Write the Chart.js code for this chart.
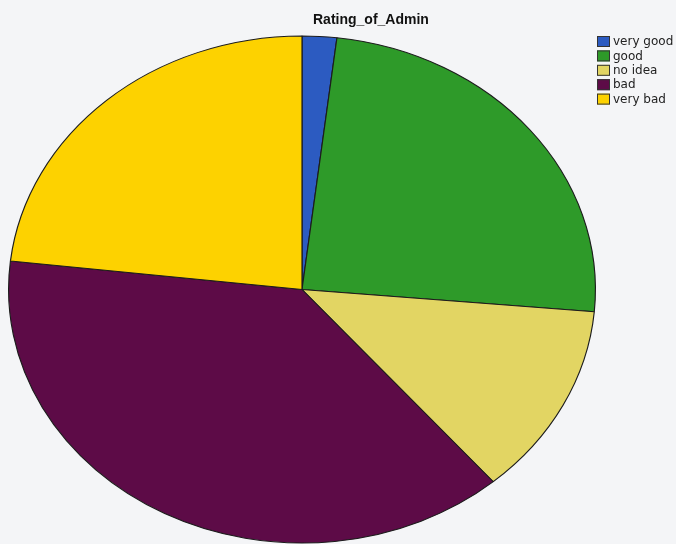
<!DOCTYPE html>
<html>
<head>
<meta charset="utf-8">
<title>Rating_of_Admin</title>
<script src="https://cdn.jsdelivr.net/npm/chart.js@4.4.1/dist/chart.umd.min.js"></script>
<style>
    html, body { margin: 0; padding: 0; background: #f4f5f7; }
    #wrap { position: relative; width: 676px; height: 544px; overflow: hidden; }
</style>
</head>
<body>
<div id="wrap"><canvas id="adminChart" width="676" height="544"></canvas></div>
<script>
const categories = ["very good", "good", "no idea", "bad", "very bad"];
const percents = [1.9, 24.5, 12.3, 38.1, 23.2];
const sliceColors = ["#2c5bc1", "#2e9a29", "#e2d563", "#5d0b47", "#fdd200"];
const chartTitle = "Rating_of_Admin";

// pie is drawn round by the library, then stretched sideways into an oval
const stretchX = 294 / 254;

const ovalPlugin = {
    id: "oval",
    beforeDatasetsDraw(chart) {
        const arc = chart.getDatasetMeta(0).data[0];
        const ctx = chart.ctx;
        ctx.save();
        ctx.translate(arc.x, arc.y);
        ctx.scale(stretchX, 1);
        ctx.translate(-arc.x, -arc.y);
    },
    afterDatasetsDraw(chart) {
        chart.ctx.restore();
    }
};

// title and the small box legend at the top right
const labelsPlugin = {
    id: "labels",
    afterDraw(chart) {
        const ctx = chart.ctx;
        ctx.save();
        ctx.fillStyle = "#111";
        ctx.font = "bold 14px 'Liberation Sans', Arial, sans-serif";
        ctx.textBaseline = "alphabetic";
        ctx.fillText(chartTitle, 313, 24);

        const ds = chart.data.datasets[0];
        ctx.font = "12px 'DejaVu Sans', sans-serif";
        ctx.textBaseline = "middle";
        chart.data.labels.forEach((label, i) => {
            const y = 41.5 + i * 14.4;
            ctx.fillStyle = ds.backgroundColor[i];
            ctx.fillRect(597, y - 5.5, 13, 11);
            ctx.strokeStyle = "#333";
            ctx.lineWidth = 1;
            ctx.strokeRect(597.5, y - 5, 12, 10);
            ctx.fillStyle = "#222";
            ctx.fillText(label, 613, y + 0.5);
        });
        ctx.restore();
    }
};

const ctx = document.getElementById("adminChart").getContext("2d");
new Chart(ctx, {
    type: "pie",
    data: {
        labels: categories,
        datasets: [{
            data: percents,
            backgroundColor: sliceColors,
            borderColor: "#1c1c1c",
            borderWidth: 1
        }]
    },
    options: {
        responsive: false,
        animation: false,
        layout: { padding: { top: 35, bottom: 0, left: 48, right: 120 } },
        plugins: {
            legend: { display: false },
            title: { display: false },
            tooltip: { enabled: false }
        }
    },
    plugins: [ovalPlugin, labelsPlugin]
});
</script>
</body>
</html>
